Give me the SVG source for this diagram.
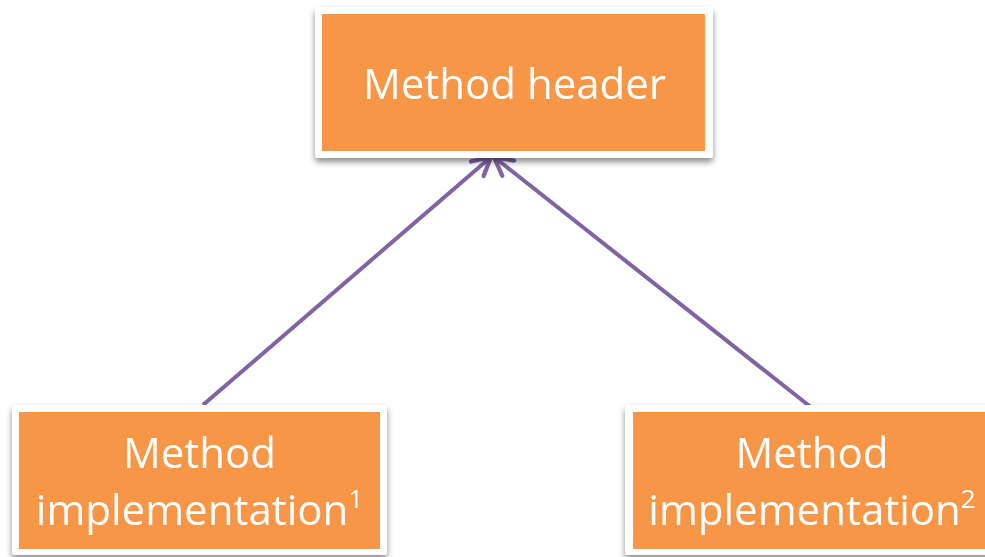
<svg xmlns="http://www.w3.org/2000/svg" width="985" height="557" viewBox="0 0 985 557">
  <defs>
    <filter id="shadow" x="-10%" y="-10%" width="120%" height="130%">
      <feGaussianBlur in="SourceAlpha" stdDeviation="3"/>
      <feOffset dx="0" dy="4" result="b"/>
      <feComponentTransfer><feFuncA type="linear" slope="0.45"/></feComponentTransfer>
      <feMerge><feMergeNode/><feMergeNode in="SourceGraphic"/></feMerge>
    </filter>
    <marker id="open-arrow" viewBox="0 0 10 10" refX="9" refY="5" markerWidth="6" markerHeight="6" orient="auto" markerUnits="strokeWidth">
      <path d="M1.5,1 L9,5 L1.5,9" fill="none" stroke="#8064A2" stroke-width="1.8" stroke-linecap="round" stroke-linejoin="round"/>
    </marker>
  </defs>
  <style>
    .frame { fill: #ffffff; }
    .box { fill: #F79646; }
    .label { font-family: "Open Sans", "Noto Sans", sans-serif; fill: #ffffff; text-anchor: middle; font-size: 42px; }
    .edge { stroke: #8064A2; stroke-width: 4; fill: none; marker-end: url(#open-arrow); }
  </style>
  <rect width="985" height="557" fill="#ffffff"/>

  <g id="connectors">
    <line class="edge" x1="203" y1="405" x2="491" y2="157"/>
    <line class="edge" x1="812" y1="408" x2="494" y2="157"/>
  </g>

  <g id="method-header" filter="url(#shadow)">
    <rect class="frame" x="315" y="7" width="398" height="151" rx="3"/>
    <rect class="box" x="322" y="14" width="383" height="137"/>
    <text class="label" x="514.5" y="99">Method header</text>
  </g>

  <g id="method-implementation-1" filter="url(#shadow)">
    <rect class="frame" x="12" y="405" width="375" height="150" rx="3"/>
    <rect class="box" x="19" y="412" width="361" height="137"/>
    <text class="label" x="199.5" y="468">Method</text>
    <text class="label" x="199.5" y="525">implementation<tspan font-size="26" dy="-17">1</tspan></text>
  </g>

  <g id="method-implementation-2" filter="url(#shadow)">
    <rect class="frame" x="625" y="405" width="375" height="150" rx="3"/>
    <rect class="box" x="633" y="412" width="361" height="137"/>
    <text class="label" x="812" y="468">Method</text>
    <text class="label" x="812" y="525">implementation<tspan font-size="26" dy="-17">2</tspan></text>
  </g>
</svg>
